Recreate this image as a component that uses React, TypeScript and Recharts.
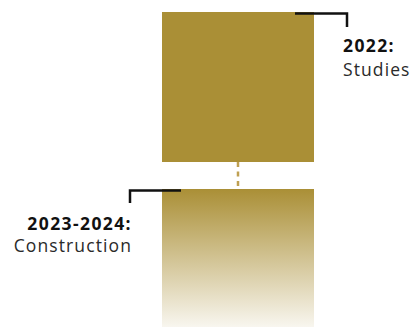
import { BarChart, Bar, XAxis, YAxis } from 'recharts';

// one column, stacked bottom-up: construction block, gap, studies block
const phases = ['Timeline'];
const constructionSpan = [138];
const gapSpan = [27];
const studiesSpan = [150];

const studiesYear = '2022:';
const studiesLabel = 'Studies';
const constructionYears = '2023-2024:';
const constructionLabel = 'Construction';

const chartData = phases.map((name, i) => ({
    name,
    construction: constructionSpan[i],
    gap: gapSpan[i],
    studies: studiesSpan[i],
}));

const GOLD = '#aa8f36';
const FONT = '"Open Sans", sans-serif';

const DashedGap = (props: any) => {
    const { x, y, width, height } = props;
    const cx = x + width / 2;
    return (
        <line
            x1={cx}
            x2={cx}
            y1={y}
            y2={y + height}
            stroke="#bfa052"
            strokeWidth={2.5}
            strokeDasharray="5 4.5"
        />
    );
};

const StudiesLabel = (props: any) => {
    const { x, y, width } = props;
    const right = x + width;
    return (
        <g>
            <polyline
                points={`${right - 19},${y + 1.5} ${right + 33},${y + 1.5} ${right + 33},${y + 15}`}
                fill="none"
                stroke="#111"
                strokeWidth={2.5}
            />
            <text x={right + 29} y={y + 40} fontFamily={FONT} fontSize={17.5} fontWeight={700} letterSpacing={1.4} fill="#111">
                {studiesYear}
            </text>
            <text x={right + 29} y={y + 64} fontFamily={FONT} fontSize={17.5} letterSpacing={1.1} fill="#2a2a2a">
                {studiesLabel}
            </text>
        </g>
    );
};

const ConstructionLabel = (props: any) => {
    const { x, y } = props;
    return (
        <g>
            <polyline
                points={`${x + 19},${y + 1.5} ${x - 32},${y + 1.5} ${x - 32},${y + 14}`}
                fill="none"
                stroke="#111"
                strokeWidth={2.5}
            />
            <text x={x - 30} y={y + 41} textAnchor="end" fontFamily={FONT} fontSize={17.5} fontWeight={700} letterSpacing={1.4} fill="#111">
                {constructionYears}
            </text>
            <text x={x - 30} y={y + 63} textAnchor="end" fontFamily={FONT} fontSize={17.5} letterSpacing={1.1} fill="#2a2a2a">
                {constructionLabel}
            </text>
        </g>
    );
};

const App = () => {
    const total = constructionSpan[0] + gapSpan[0] + studiesSpan[0];
    return (
        <div style={{ width: 411, height: 328, background: '#fff' }}>
            <style>{'body { margin: 0; }'}</style>
            <BarChart
                width={411}
                height={328}
                data={chartData}
                margin={{ top: 12, right: 0, left: 65, bottom: 1 }}
                barSize={152}
            >
                <defs>
                    <linearGradient id="fadeGold" x1="0" y1="0" x2="0" y2="1">
                        <stop offset="0%" stopColor={GOLD} stopOpacity={1} />
                        <stop offset="100%" stopColor={GOLD} stopOpacity={0.08} />
                    </linearGradient>
                </defs>
                <XAxis dataKey="name" hide />
                <YAxis hide domain={[0, total]} />
                <Bar
                    dataKey="construction"
                    stackId="t"
                    fill="url(#fadeGold)"
                    isAnimationActive={false}
                    label={<ConstructionLabel />}
                />
                <Bar dataKey="gap" stackId="t" shape={<DashedGap />} isAnimationActive={false} />
                <Bar
                    dataKey="studies"
                    stackId="t"
                    fill={GOLD}
                    isAnimationActive={false}
                    label={<StudiesLabel />}
                />
            </BarChart>
        </div>
    );
};

export default App;
